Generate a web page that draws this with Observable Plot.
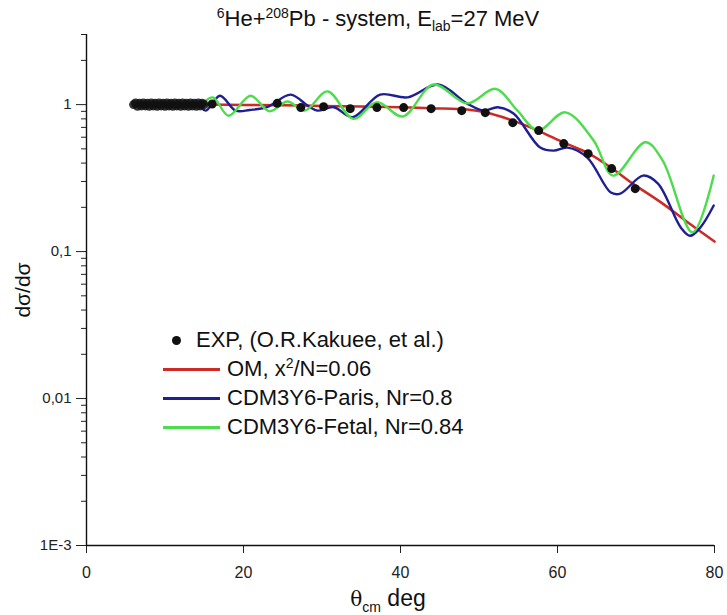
<!DOCTYPE html>
<html><head><meta charset="utf-8">
<script src="https://cdn.jsdelivr.net/npm/d3@7"></script>
<script src="https://cdn.jsdelivr.net/npm/@observablehq/plot@0.6"></script>
<style>
body{margin:0;background:#fff;font-family:"Liberation Sans",Arial,sans-serif;}
#wrap{position:relative;width:727px;height:615px;overflow:hidden;}
.ov{position:absolute;white-space:nowrap;color:#111;line-height:1;}
.ov sup,.ov sub{font-size:14px;line-height:0;}
</style></head><body><div id="wrap"></div>
<script>
// ---- data ----
const expTheta = [6.0,6.25,6.5,6.75,7.0,7.25,7.5,7.75,8.0,8.25,8.5,8.75,9.0,9.25,9.5,9.75,10.0,10.25,10.5,10.75,11.0,11.25,11.5,11.75,12.0,12.25,12.5,12.75,13.0,13.25,13.5,13.75,14.0,14.25,14.5,14.75,15.0,
  16.0,24.3,27.3,30.2,33.6,37.0,40.4,43.9,47.8,50.8,54.3,57.6,60.8,63.9,66.9,69.9];
const expValue = [1.00,1.025,0.975,1.02,0.98,1.025,0.98,1.02,0.975,1.025,0.98,1.02,0.975,1.025,0.98,1.02,0.975,1.025,0.98,1.02,0.975,1.025,0.98,1.02,0.975,1.025,0.98,1.02,0.975,1.025,0.98,1.02,0.975,1.025,0.98,1.02,1.00,
  1.01,1.02,0.954,0.969,0.939,0.954,0.954,0.939,0.91,0.882,0.754,0.666,0.543,0.464,0.367,0.268];

const omTheta = [6,10,15,20,25,30,35,40,44,48.5,50.8,54.3,57.5,60.8,64,66.8,69.6,73.4,76.8,80];
const omValue = [1.0,1.0,1.0,0.995,0.99,0.98,0.97,0.96,0.944,0.925,0.886,0.778,0.666,0.551,0.464,0.373,0.29,0.212,0.155,0.117];

const parisTheta = [6,6.75,7.5,8.25,9,9.75,10.5,11.25,12,12.75,13.5,14.25,15.2,17,19,20.8,23,26,28.2,29.4,31.5,33.9,37.4,40.9,44.8,48.5,50.6,52.4,54.4,57.8,59.5,61.3,63.8,66.8,68,70.9,72.8,75.7,76.9,78.2,79.9];
const parisValue = [0.975,1.0,0.97,0.995,0.97,1.0,0.975,0.995,0.97,1.0,0.975,0.99,0.91,1.15,0.91,0.92,0.96,1.17,0.98,0.91,0.96,0.82,1.17,1.12,1.37,1.016,0.91,0.96,0.87,0.51,0.486,0.51,0.436,0.252,0.248,0.329,0.29,0.146,0.128,0.146,0.206];

const fetalTheta = [6,6.65,7.3,7.95,8.6,9.25,9.9,10.55,11.2,11.85,12.5,13.15,13.8,14.45,16.1,18.1,20.9,23.3,25.6,27.8,30.7,34,37,40.3,44.2,48.5,52.1,54.9,57.5,61,64.6,67.1,71.2,73.4,77.2,79.9];
const fetalValue = [0.995,1.015,0.995,1.015,0.995,1.015,0.995,1.015,0.995,1.015,0.995,1.015,0.995,1.0,1.12,0.84,1.15,0.90,1.05,0.91,1.23,0.80,1.04,0.83,1.37,1.02,1.28,0.91,0.666,0.886,0.57,0.329,0.554,0.416,0.135,0.329];

const xTicks = [0,20,40,60,80];
const yMajor = [1,0.1,0.01,0.001];
const yMajorLabels = ["1","0,1","0,01","1E-3"];
const yMinor = [3,2,0.9,0.8,0.7,0.6,0.5,0.4,0.3,0.2,0.09,0.08,0.07,0.06,0.05,0.04,0.03,0.02,0.009,0.008,0.007,0.006,0.005,0.004,0.003,0.002];

const seriesNames = ["EXP, (O.R.Kakuee, et al.)","OM, x<sup>2</sup>/N=0.06","CDM3Y6-Paris, Nr=0.8","CDM3Y6-Fetal, Nr=0.84"];
const seriesColors = ["#111111","#cc2b26","#1f1f94","#4cdc4c"];

// ---- tables ----
const tab = (t, v) => t.map((d, i) => ({t: d, v: v[i]}));
const expData = tab(expTheta, expValue);
const omData = tab(omTheta, omValue);
const parisData = tab(parisTheta, parisValue);
const fetalData = tab(fetalTheta, fetalValue);
const labelOf = new Map(yMajor.map((d, i) => [d, yMajorLabels[i]]));

const plot = Plot.plot({
  width: 727, height: 615,
  marginTop: 34, marginBottom: 70, marginLeft: 86, marginRight: 13,
  style: {fontFamily: '"Liberation Sans",Arial,sans-serif', fontSize: "15px", color: "#222", background: "white"},
  x: {domain: [0, 80]},
  y: {type: "log", domain: [0.001, 3]},
  marks: [
    Plot.axisY(yMinor, {tickSize: 5, tickFormat: () => "", label: null}),
    Plot.axisY(yMajor, {tickSize: 10, tickPadding: 5, tickFormat: d => labelOf.get(d), label: null, fontSize: 15}),
    Plot.axisX(xTicks, {tickSize: 8, tickPadding: 13, label: null, fontSize: 16}),
    Plot.ruleX([0], {stroke: "#111", strokeWidth: 1.4}),
    Plot.ruleY([0.001], {stroke: "#111", strokeWidth: 1.4}),
    Plot.line(omData, {x: "t", y: "v", stroke: seriesColors[1], strokeWidth: 2.5, curve: "catmull-rom"}),
    Plot.line(parisData, {x: "t", y: "v", stroke: seriesColors[2], strokeWidth: 2.4, curve: "catmull-rom"}),
    Plot.line(fetalData, {x: "t", y: "v", stroke: seriesColors[3], strokeWidth: 2.4, curve: "catmull-rom"}),
    Plot.dot(expData, {x: "t", y: "v", r: 4.5, fill: seriesColors[0], stroke: "none", filter: d => d.t >= 15.5}),
    Plot.dot(expData, {x: "t", y: "v", r: 4.5, fill: seriesColors[0], stroke: "none", fillOpacity: 0.85, filter: d => d.t < 15.5})
  ]
});
const wrap = document.getElementById("wrap");
wrap.appendChild(plot);

function ov(html, css) {
  const d = document.createElement("div");
  d.className = "ov";
  d.innerHTML = html;
  d.style.cssText += css;
  wrap.appendChild(d);
  return d;
}
// title
ov('<sup>6</sup>He+<sup>208</sup>Pb - system, E<sub>lab</sub>=27 MeV', 'left:378px;top:8px;font-size:22px;transform:translateX(-50%);');
// y label
ov('dσ/dσ', 'left:22px;top:290px;font-size:21px;transform:translate(-50%,-50%) rotate(-90deg);');
// x label
ov('<span style="font-family:\'DejaVu Serif\',serif;font-size:20px">θ</span><sub style="font-size:14px">cm</sub> deg', 'left:388px;top:587px;font-size:23px;transform:translateX(-50%);');

// legend
const rowsY = [340, 369, 398, 427];
rowsY.forEach((y, i) => {
  if (i === 0) {
    ov('', `left:${176-4.5}px;top:${y-4.5}px;width:9px;height:9px;border-radius:50%;background:${seriesColors[0]};`);
    ov(seriesNames[0], `left:196px;top:${y-11}px;font-size:22px;`);
  } else {
    ov('', `left:163px;top:${y-1}px;width:57px;height:2.5px;background:${seriesColors[i]};`);
    ov(seriesNames[i], `left:227px;top:${y-11}px;font-size:22px;`);
  }
});
</script></body></html>
